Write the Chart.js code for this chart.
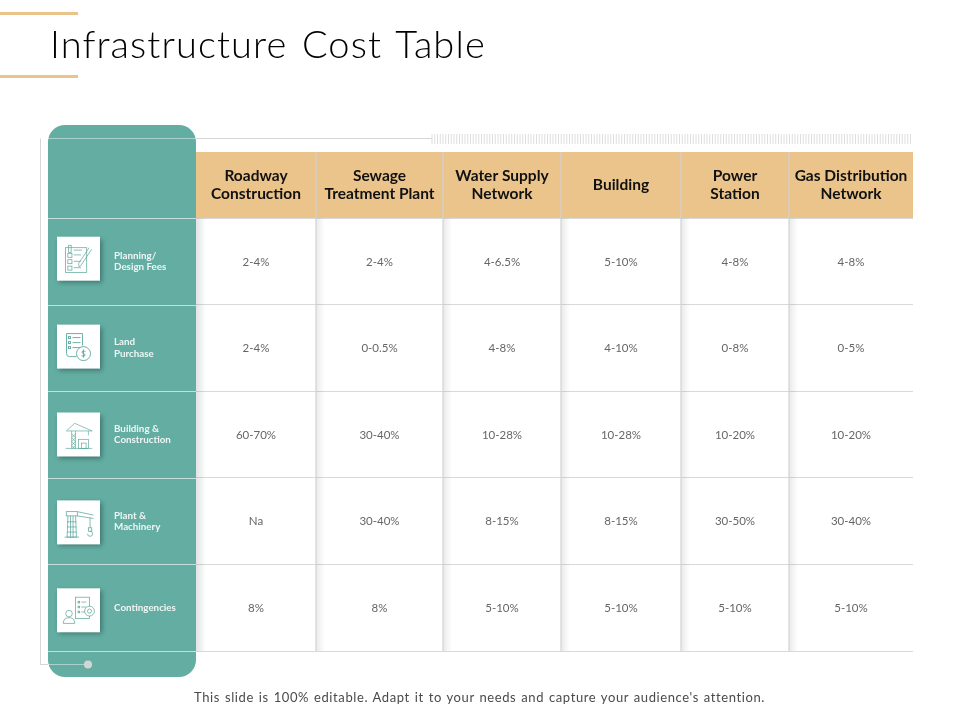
<!DOCTYPE html>
<html>
<head>
<meta charset="utf-8">
<title>Infrastructure Cost Table</title>
<style>
    html, body { margin: 0; padding: 0; background: #fff; }
    #page { position: relative; width: 960px; height: 720px; overflow: hidden; }
    canvas { position: absolute; left: 0; top: 0; display: block; }
    #slideTitle { position: absolute; left: 50px; top: 20px; margin: 0; font: 300 38px Lato, sans-serif; letter-spacing: 1.1px; word-spacing: 3px; color: #000; white-space: nowrap; }
    #slideNote { position: absolute; left: 194px; top: 689px; margin: 0; font: 400 13px Lato, sans-serif; letter-spacing: 0.6px; word-spacing: 1px; color: #4a4a4a; white-space: nowrap; }
</style>
<script src="https://cdn.jsdelivr.net/npm/chart.js@4/dist/chart.umd.min.js"></script>
</head>
<body>
<div id="page">
    <canvas id="costTable" width="960" height="720"></canvas>
    <h1 id="slideTitle">Infrastructure Cost Table</h1>
    <p id="slideNote">This slide is 100% editable. Adapt it to your needs and capture your audience's attention.</p>
</div>
<script>
const columnNames = [
    ['Roadway', 'Construction'],
    ['Sewage', 'Treatment Plant'],
    ['Water Supply', 'Network'],
    ['Building'],
    ['Power', 'Station'],
    ['Gas Distribution', 'Network']
];
const rowNames = [
    ['Planning/', 'Design Fees'],
    ['Land', 'Purchase'],
    ['Building &', 'Construction'],
    ['Plant &', 'Machinery'],
    ['Contingencies']
];
const planningFees = ['2-4%', '2-4%', '4-6.5%', '5-10%', '4-8%', '4-8%'];
const landPurchase = ['2-4%', '0-0.5%', '4-8%', '4-10%', '0-8%', '0-5%'];
const buildingConstruction = ['60-70%', '30-40%', '10-28%', '10-28%', '10-20%', '10-20%'];
const plantMachinery = ['Na', '30-40%', '8-15%', '8-15%', '30-50%', '30-40%'];
const contingencies = ['8%', '8%', '5-10%', '5-10%', '5-10%', '5-10%'];
const rowValues = [planningFees, landPurchase, buildingConstruction, plantMachinery, contingencies];

// column widths of the table, used as the units of the x scale
const columnWidths = [120, 127, 118, 120, 108, 124];

const TEAL = '#63ada2';
const SAND = '#ebc48c';
const ICON = '#5fa89c';

let edges = [0];
columnWidths.forEach((w, i) => edges.push(edges[i] + w));
const centres = columnWidths.map((w, i) => edges[i] + w / 2);
const rowKeys = rowNames.map(r => r.join(' '));

let points = [];
rowValues.forEach((row, r) => {
    row.forEach((text, c) => points.push({ x: centres[c], y: rowKeys[r], text: text }));
});

function line(ctx, x1, y1, x2, y2) {
    ctx.beginPath();
    ctx.moveTo(x1, y1);
    ctx.lineTo(x2, y2);
    ctx.stroke();
}

function softEdge(ctx, x, top, bottom, width, alpha) {
    const g = ctx.createLinearGradient(x, 0, x + width, 0);
    g.addColorStop(0, 'rgba(120,125,130,' + alpha + ')');
    g.addColorStop(1, 'rgba(120,125,130,0)');
    ctx.fillStyle = g;
    ctx.fillRect(x, top, width, bottom - top);
}

// small line icons, drawn around the centre of the white card
const icons = [
    function (c) {
        c.translate(0, 1);
        c.scale(0.82, 0.8);
        c.strokeRect(-16, -15, 26, 31);
        c.strokeRect(-12, -18, 3, 9);
        for (let i = 0; i < 3; i++) {
            c.strokeRect(-13, -8 + i * 8, 5, 5);
            line(c, -6, -6 + i * 8, 3, -6 + i * 8);
        }
        line(c, -6, -12, 4, -12);
        line(c, 0, 5, 13, -15);
        line(c, 3, 7, 16, -13);
        line(c, 0, 5, 1, 9);
        line(c, 1, 9, 3, 7);
    },
    function (c) {
        c.beginPath();
        c.moveTo(-2, 10);
        c.lineTo(-9, 10);
        c.quadraticCurveTo(-12, 10, -12, 7);
        c.lineTo(-12, -13);
        c.lineTo(4, -13);
        c.lineTo(4, -1);
        c.stroke();
        for (let i = 0; i < 3; i++) {
            c.strokeRect(-10, -10 + i * 5, 2, 2);
            line(c, -6, -9 + i * 5, 2, -9 + i * 5);
        }
        c.beginPath();
        c.arc(5, 7, 7, 0, Math.PI * 2);
        c.stroke();
        c.beginPath();
        c.moveTo(7, 5);
        c.quadraticCurveTo(5, 3.5, 3.5, 5);
        c.quadraticCurveTo(3, 6.5, 5, 7);
        c.quadraticCurveTo(7, 7.5, 6.5, 9);
        c.quadraticCurveTo(5, 10.5, 3, 9);
        c.stroke();
        line(c, 5, 3, 5, 11);
    },
    function (c) {
        c.translate(0, 1);
        c.scale(0.76, 0.76);
        line(c, -16, -6, 18, -6);
        line(c, -16, -6, -5, -16);
        line(c, -5, -16, 18, -6);
        line(c, -9, -6, -9, 17);
        line(c, -4, -6, -4, 17);
        for (let i = 0; i < 4; i++) {
            line(c, -9, -2 + i * 5, -4, 3 + i * 5);
            line(c, -4, -2 + i * 5, -9, 3 + i * 5);
        }
        line(c, 13, -6, 13, 0);
        c.strokeRect(0, 5, 13, 12);
        c.strokeRect(4, 10, 6, 7);
        line(c, -17, 17, 18, 17);
    },
    function (c) {
        c.translate(0.5, 2);
        c.scale(0.85, 0.85);
        c.strokeRect(-15, -15, 13, 5);
        line(c, -2, -15, 17, -11);
        line(c, -2, -10, 17, -7);
        line(c, -13, -10, -14, 15);
        line(c, -4, -10, -3, 15);
        for (let i = 0; i < 4; i++) line(c, -14, -3 + i * 6, -3, -3 + i * 6);
        line(c, -7, -10, -7, 15);
        line(c, -10, -10, -10, 15);
        line(c, -17, 15, 0, 15);
        line(c, 13, -8, 13, 4);
        c.strokeRect(11, 4, 4, 4);
        c.beginPath();
        c.arc(13, 11, 3, -Math.PI / 2, Math.PI);
        c.stroke();
    },
    function (c) {
        c.translate(2, 0);
        c.scale(0.82, 0.82);
        c.strokeRect(-6, -16, 17, 26);
        for (let i = 0; i < 3; i++) {
            c.strokeRect(-3, -11 + i * 6, 2, 2);
            line(c, 1, -10 + i * 6, 7, -10 + i * 6);
        }
        c.fillStyle = '#fff';
        c.beginPath();
        c.arc(11, 1, 6, 0, Math.PI * 2);
        c.fill();
        c.stroke();
        c.beginPath();
        c.arc(11, 1, 2.5, 0, Math.PI * 2);
        c.stroke();
        c.beginPath();
        c.arc(-14, 4, 4, 0, Math.PI * 2);
        c.stroke();
        c.beginPath();
        c.moveTo(-21, 16);
        c.quadraticCurveTo(-21, 9, -14, 9);
        c.quadraticCurveTo(-7, 9, -7, 16);
        c.closePath();
        c.stroke();
    }
];

const tableLook = {
    id: 'tableLook',
    beforeDraw(chart) {
        const c = chart.ctx;
        const x = chart.scales.x;
        const area = chart.chartArea;

        c.save();
        // the two short rules around the title
        c.fillStyle = SAND;
        c.fillRect(0, 12, 78, 3);
        c.fillRect(0, 75, 78, 3);

        // header band
        c.fillRect(area.left, x.top, area.right - area.left, x.bottom - x.top);

        // left panel
        c.fillStyle = TEAL;
        c.beginPath();
        c.roundRect(48, 125, area.left - 48, 552, 17);
        c.fill();

        // decoration lines behind the table
        c.strokeStyle = '#d6d6d6';
        c.lineWidth = 1;
        line(c, 196, 138.5, 432, 138.5);
        c.strokeStyle = '#dedede';
        for (let i = 432; i < 911; i += 2.75) line(c, i, 134, i, 144);
        c.strokeStyle = '#d6d6d6';
        line(c, 40.5, 138, 40.5, 664);
        line(c, 40, 664.5, 48, 664.5);
        c.strokeStyle = 'rgba(255,255,255,0.45)';
        line(c, 40, 138.5, 196, 138.5);
        line(c, 48, 664.5, 88, 664.5);
        c.fillStyle = '#d4d6d6';
        c.beginPath();
        c.arc(88, 664.5, 4, 0, Math.PI * 2);
        c.fill();
        c.restore();
    },
    beforeDatasetsDraw(chart) {
        const c = chart.ctx;
        const x = chart.scales.x;
        const y = chart.scales.y;
        const area = chart.chartArea;

        c.save();
        // column separators, with the soft shade to their right
        softEdge(c, area.left, area.top, area.bottom, 10, 0.22);
        edges.slice(1, -1).forEach(e => {
            const px = x.getPixelForValue(e);
            softEdge(c, px, area.top, area.bottom, 9, 0.16);
            c.strokeStyle = '#cfd2d6';
            c.lineWidth = 1.2;
            line(c, px, x.top, px, area.bottom);
        });

        // row lines continue over the panel
        c.strokeStyle = 'rgba(255,255,255,0.62)';
        c.lineWidth = 1;
        for (let i = 0; i <= rowKeys.length; i++) {
            const py = Math.round(area.top + i * (area.bottom - area.top) / rowKeys.length) + 0.5;
            line(c, 46, py, area.left, py);
        }

        // icon cards sit on a slightly wider pitch than the rows
        rowKeys.forEach((key, i) => {
            const py = y.getPixelForValue(i) + (i - 2) * 1.3;
            c.save();
            c.shadowColor = 'rgba(30,70,65,0.55)';
            c.shadowBlur = 5;
            c.shadowOffsetX = 2;
            c.shadowOffsetY = 2;
            c.fillStyle = '#fff';
            c.fillRect(57, py - 22, 43, 44);
            c.restore();
            c.save();
            c.translate(78.5, py);
            c.strokeStyle = ICON;
            c.lineWidth = 0.9;
            icons[i](c);
            c.restore();
        });
        c.restore();
    },
    afterDatasetsDraw(chart) {
        const c = chart.ctx;
        c.save();
        c.font = '400 11.5px Lato, sans-serif';
        c.fillStyle = '#666';
        c.textAlign = 'center';
        c.textBaseline = 'middle';
        chart.getDatasetMeta(0).data.forEach((el, i) => {
            c.fillText(points[i].text, el.x, el.y + 0.5);
        });
        c.restore();
    }
};

const myChart = new Chart(document.getElementById('costTable').getContext('2d'), {
    type: 'scatter',
    data: {
        datasets: [{ data: points, pointRadius: 0, pointHoverRadius: 0 }]
    },
    options: {
        responsive: false,
        animation: false,
        events: [],
        layout: { padding: { left: 114, right: 47, top: 152, bottom: 69 } },
        plugins: { legend: { display: false }, tooltip: { enabled: false }, title: { display: false } },
        scales: {
            x: {
                type: 'linear',
                position: 'top',
                min: 0,
                max: edges[edges.length - 1],
                afterFit: scale => { scale.height = 66; },
                afterBuildTicks: scale => { scale.ticks = centres.map(v => ({ value: v })); },
                border: { display: false },
                grid: { display: false, drawTicks: false },
                ticks: {
                    autoSkip: false,
                    maxRotation: 0,
                    padding: 24,
                    crossAlign: 'center',
                    color: '#111',
                    font: { family: 'Lato, sans-serif', size: 15.5, weight: '700', lineHeight: 1.17 },
                    callback: (value, i) => columnNames[i]
                }
            },
            y: {
                type: 'category',
                labels: rowKeys,
                offset: true,
                afterFit: scale => { scale.width = 82; },
                border: { display: false },
                grid: { offset: true, color: '#d9d9d9', drawTicks: false },
                ticks: {
                    autoSkip: false,
                    crossAlign: 'far',
                    padding: 0,
                    color: '#eef6f4',
                    font: { family: 'Lato, sans-serif', size: 9.8, weight: '700', lineHeight: 1.14 },
                    callback: (value, i) => rowNames[i]
                }
            }
        }
    },
    plugins: [tableLook]
});
</script>
</body>
</html>
